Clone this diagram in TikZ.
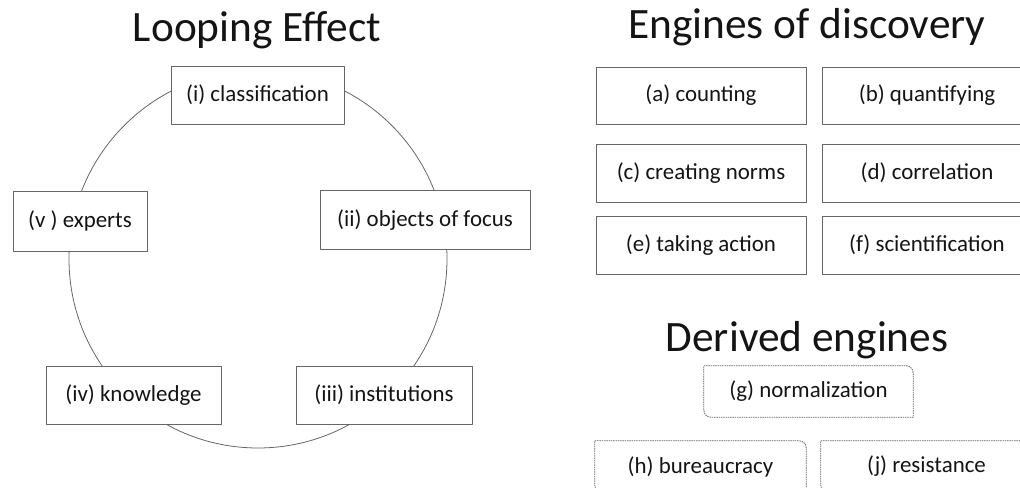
\documentclass[tikz,border=0pt]{standalone}
\usepackage{fontspec}
\setmainfont{Carlito}
\definecolor{framecol}{rgb}{0.40,0.40,0.40}
\definecolor{textcol}{rgb}{0.08,0.08,0.08}
% frame of a derived engine: rounded top right and bottom left corners
\newcommand{\derivedframe}[1]{%
  \draw [derivedline] (#1.north west) -- ([xshift=-7bp]#1.north east)
    arc [start angle=90, end angle=0, radius=7bp] -- (#1.south east)
    -- ([xshift=7bp]#1.south west)
    arc [start angle=270, end angle=180, radius=7bp] -- cycle;}
\begin{document}
\begin{tikzpicture}[line join=bevel,
  title/.style={anchor=base,text=textcol,font=\fontsize{43.5}{52}\selectfont},
  loopbox/.style={draw=framecol,fill=white,line width=0.9bp,text=textcol,
    inner sep=0pt,font=\fontsize{23}{28}\selectfont},
  engine/.style={loopbox,minimum width=210bp,minimum height=57bp},
  derived/.style={text=textcol,inner sep=0pt,minimum height=51bp,
    font=\fontsize{23}{28}\selectfont},
  derivedline/.style={draw=framecol,line width=0.8bp,dash pattern=on 1.5bp off 0.8bp}]
\useasboundingbox (0bp,0bp) rectangle (1020bp,488bp);
\clip (0bp,0bp) rectangle (1020bp,488bp);
%%
  % Titles
  \node [title] (looptitle) at (257bp,446bp) {Looping Effect};
  \node [title] (enginetitle) at (807bp,449bp) {Engines of discovery};
  \node [title] (derivedtitle) at (807bp,136bp) {Derived engines};
  % Loop
  \node [draw=framecol,line width=0.8bp,circle,minimum size=378bp,inner sep=0pt] (loop) at (258bp,229bp) {};
  % Node: classification
  \node [loopbox,minimum width=173bp,minimum height=58bp] (classif) at (257.5bp,393bp) {(i) classification};
  % Node: objects
  \node [loopbox,minimum width=210bp,minimum height=59bp] (objects) at (425bp,268bp) {(ii) objects of focus};
  % Node: institutions
  \node [loopbox,minimum width=176bp,minimum height=58bp] (instit) at (384bp,93bp) {(iii) institutions};
  % Node: knowledge
  \node [loopbox,minimum width=175bp,minimum height=58bp] (knowl) at (133.5bp,93bp) {(iv) knowledge};
  % Node: experts
  \node [loopbox,minimum width=134bp,minimum height=60bp] (experts) at (80bp,267bp) {(v ) experts};
  % Engines of discovery
  \node [engine] (counting) at (701bp,392.5bp) {(a) counting};
  \node [engine] (quantif) at (927bp,392.5bp) {(b) quantifying};
  \node [engine,minimum height=58bp] (norms) at (701bp,315bp) {(c) creating norms};
  \node [engine,minimum height=58bp] (correl) at (927bp,315bp) {(d) correlation};
  \node [engine,minimum height=58bp] (action) at (701bp,243bp) {(e) taking action};
  \node [engine,minimum height=58bp] (scient) at (927bp,243bp) {(f) scientification};
  % Derived engines
  \node [derived,minimum width=209bp] (normal) at (808.5bp,96.5bp) {(g) normalization};
  \derivedframe{normal}
  \node [derived,minimum width=211bp] (bureau) at (700.5bp,21.5bp) {(h) bureaucracy};
  \derivedframe{bureau}
  \node [derived,minimum width=211bp] (resist) at (926.5bp,21.5bp) {(j) resistance};
  \derivedframe{resist}
%
\end{tikzpicture}
\end{document}
